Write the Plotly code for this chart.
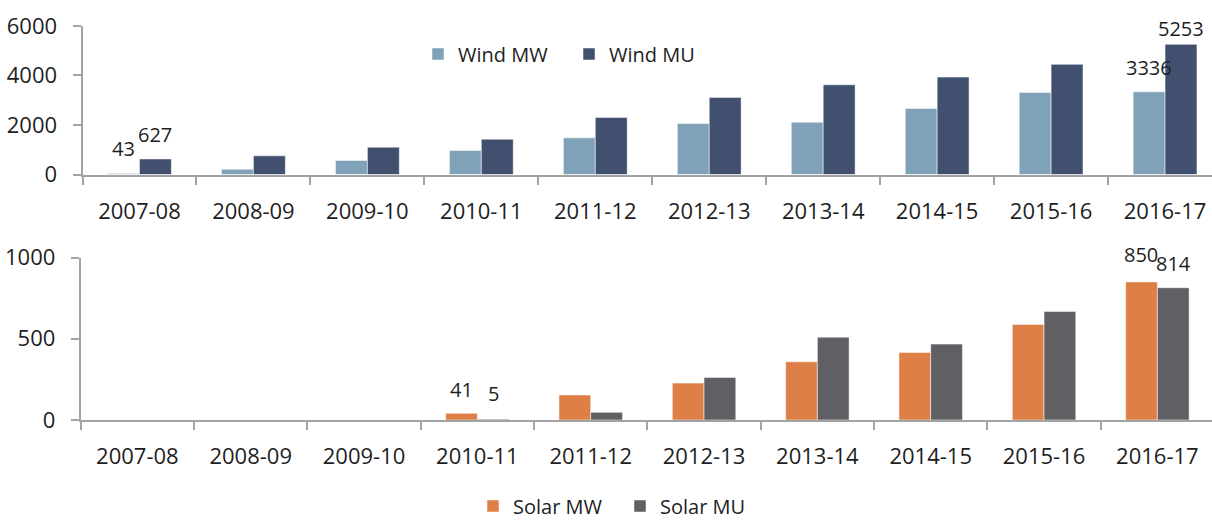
import plotly.graph_objects as go

categories = ["2007-08", "2008-09", "2009-10", "2010-11", "2011-12",
              "2012-13", "2013-14", "2014-15", "2015-16", "2016-17"]
wind_mw = [43, 214, 566, 970, 1479, 2061, 2113, 2667, 3313, 3336]
wind_mu = [627, 752, 1103, 1426, 2303, 3111, 3620, 3931, 4444, 5253]
solar_mw = [0, 0, 0, 41, 154, 227, 358, 416, 588, 850]
solar_mu = [0, 0, 0, 5, 47, 262, 510, 467, 668, 814]

# labelled points: (category index, series name)
wind_labels = [(0, "MW"), (0, "MU"), (9, "MW"), (9, "MU")]
solar_labels = [(3, "MW"), (3, "MU"), (9, "MW"), (9, "MU")]

FONT = "Open Sans"
TXT = "#1e1e1e"
AX = "#a3a3a3"
W = 1212
H = 521

fig = go.Figure()
fig.add_bar(x=categories, y=wind_mw, name="Wind MW", marker_color="#80a2b9",
            marker_line=dict(color="rgba(255,255,255,0.5)", width=1),
            xaxis="x", yaxis="y", legend="legend")
fig.add_bar(x=categories, y=wind_mu, name="Wind MU", marker_color="#41506e",
            marker_line=dict(color="rgba(255,255,255,0.5)", width=1),
            xaxis="x", yaxis="y", legend="legend")
fig.add_bar(x=categories, y=solar_mw, name="Solar MW", marker_color="#dd7f47",
            marker_line=dict(color="rgba(255,255,255,0.5)", width=1),
            xaxis="x2", yaxis="y2", legend="legend2")
fig.add_bar(x=categories, y=solar_mu, name="Solar MU", marker_color="#5f5f64",
            marker_line=dict(color="rgba(255,255,255,0.5)", width=1),
            xaxis="x2", yaxis="y2", legend="legend2")

annotations = []
def add_labels(labels, mw, mu, xref, yref, shifts):
    for (i, s), ys in zip(labels, shifts):
        v = mw[i] if s == "MW" else mu[i]
        annotations.append(dict(
            x=categories[i], y=v, xref=xref, yref=yref, text=str(v),
            showarrow=False, yanchor="bottom", xanchor="center",
            xshift=-16 if s == "MW" else 16, yshift=ys,
            font=dict(family=FONT, size=20, color=TXT)))

add_labels(wind_labels, wind_mw, wind_mu, "x", "y", [9, 9, 9, 0])
add_labels(solar_labels, solar_mw, solar_mu, "x2", "y2", [8, 10, 12, 9])

xcommon = dict(type="category", showline=True, linecolor=AX, linewidth=2,
               ticks="outside", tickson="boundaries", ticklen=8, tickcolor=AX,
               tickwidth=2, showgrid=False, zeroline=False,
               tickfont=dict(family=FONT, size=22, color=TXT),
               ticklabelstandoff=16)
ycommon = dict(showline=True, linecolor=AX, linewidth=2, ticks="outside",
               ticklen=8, tickcolor=AX, tickwidth=2, showgrid=False,
               zeroline=False, tickfont=dict(family=FONT, size=22, color=TXT),
               ticklabelstandoff=11)

fig.update_layout(
    width=W, height=H,
    margin=dict(l=0, r=0, t=0, b=0, autoexpand=False),
    paper_bgcolor="white", plot_bgcolor="white",
    barmode="group", bargap=0.44, bargroupgap=0,
    font=dict(family=FONT, color=TXT),
    xaxis=dict(domain=[82.5 / W, 1], range=[-0.5, 9.412], anchor="y", **xcommon),
    yaxis=dict(domain=[(H - 174.5) / H, (H - 25.8) / H], range=[0, 6000],
               dtick=2000, anchor="x", **ycommon),
    xaxis2=dict(domain=[80.7 / W, 1], range=[-0.5, 9.482], anchor="y2", **xcommon),
    yaxis2=dict(domain=[(H - 420) / H, (H - 257.5) / H], range=[0, 1000],
                dtick=500, anchor="x2", **ycommon),
    legend=dict(orientation="h", x=418 / W, y=1 - 54 / H, xanchor="left",
                yanchor="middle", entrywidth=106, entrywidthmode="pixels",
                font=dict(family=FONT, size=20, color=TXT),
                bgcolor="rgba(0,0,0,0)", traceorder="normal"),
    legend2=dict(orientation="h", x=473 / W, y=1 - 506 / H, xanchor="left",
                 yanchor="middle", entrywidth=102, entrywidthmode="pixels",
                 font=dict(family=FONT, size=20, color=TXT),
                 bgcolor="rgba(0,0,0,0)", traceorder="normal"),
    annotations=annotations,
    showlegend=True,
)

fig.write_html("out.html", config={"displayModeBar": False},
               post_script="document.body.style.margin='0';document.body.style.overflow='hidden';")
